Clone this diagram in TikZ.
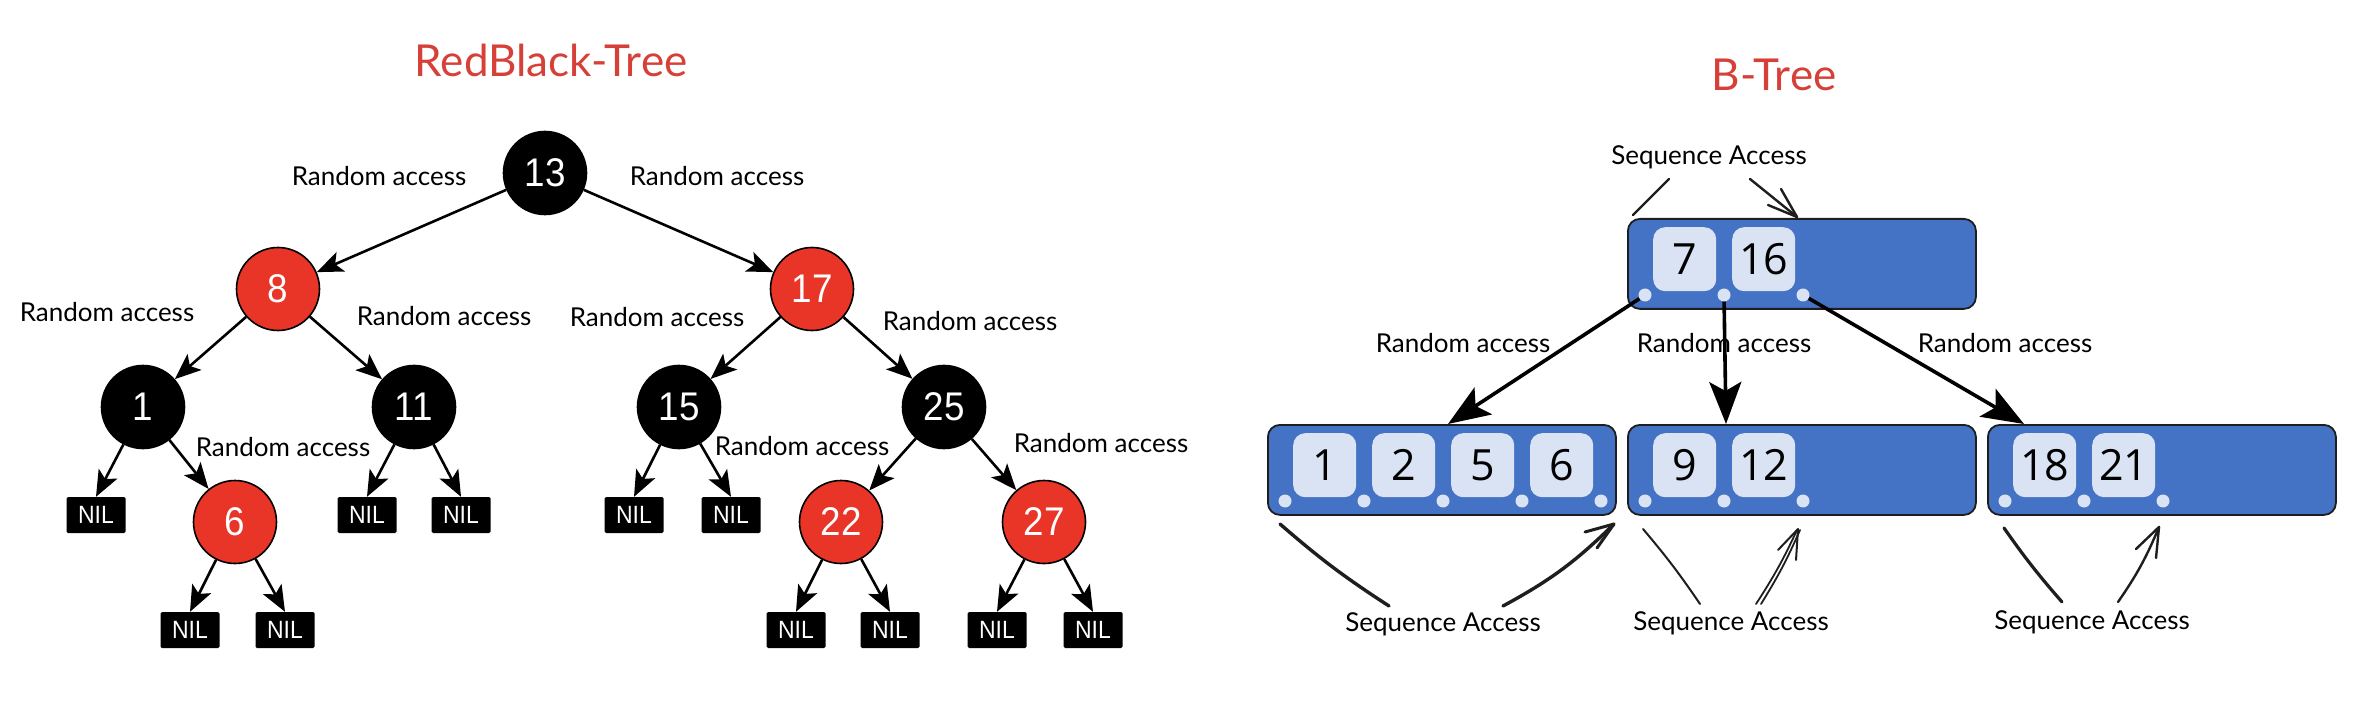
\documentclass[tikz,border=0pt]{standalone}
\usepackage{fontspec}
\usetikzlibrary{arrows.meta,calc}
\newfontfamily\rbnumf{Liberation Sans}[FakeStretch=0.92]
\newfontfamily\keynumf{Open Sans}
\newfontfamily\handf{Lato}
\definecolor{rbred}{RGB}{232,53,40}
\definecolor{titlered}{RGB}{214,64,56}
\definecolor{bblue}{RGB}{68,114,196}
\definecolor{bborder}{RGB}{30,30,30}
\definecolor{keyfill}{RGB}{218,227,243}
\definecolor{sketchcol}{RGB}{30,30,30}
\tikzset{
  rbk/.style={circle, fill=black, draw=black, line width=1.6pt, minimum size=83pt, inner sep=0pt, text=white, font=\rbnumf\fontsize{40}{40}\selectfont},
  rbr/.style={rbk, fill=rbred},
  nilbox/.style={rectangle, fill=black, minimum width=59pt, minimum height=36pt, inner sep=0pt, text=white, rounded corners=1.5pt, font=\rbnumf\fontsize{25}{25}\selectfont},
  rbedge/.style={line width=2.6pt, -{Stealth[length=26pt,width=21pt,inset=6pt]}},
  elab/.style={inner sep=0pt, font=\handf\fontsize{26}{26}\selectfont},
  ttl/.style={inner sep=0pt, text=titlered, font=\handf\fontsize{44}{44}\selectfont},
  bbox/.style={draw=bborder, fill=bblue, line width=1.8pt, rounded corners=12pt, minimum width=348pt, minimum height=90pt, inner sep=0pt, anchor=north west},
  keybox/.style={fill=keyfill, rounded corners=12pt, minimum width=63pt, minimum height=64pt, inner sep=0pt, anchor=north west, font=\keynumf\fontsize{43}{43}\selectfont},
  dotn/.style={circle, fill=keyfill, minimum size=13pt, inner sep=0pt},
  bedge/.style={line width=3.6pt, -{Stealth[length=42pt,width=32pt,inset=9pt]}},
  sketch/.style={line width=2.4pt, line cap=round, line join=round, draw=sketchcol},
}
\begin{document}
\begin{tikzpicture}[x=1pt,y=-1pt]
\fill[white] (0,0) rectangle (2358,708);
\useasboundingbox (0,0) rectangle (2358,708);

% ---------------- Red-black tree ----------------
\node[ttl] (t1) at (551,60) {RedBlack-Tree};

\node[rbk] (n13) at (545,173) {13};
\node[rbr] (n8)  at (278,289) {8};
\node[rbr] (n17) at (812,289) {17};
\node[rbk] (n1)  at (143,407) {1};
\node[rbk] (n11) at (414,407) {11};
\node[rbk] (n15) at (679,407) {15};
\node[rbk] (n25) at (944,407) {25};
\node[rbr] (n6)  at (235,522) {6};
\node[rbr] (n22) at (841,522) {22};
\node[rbr] (n27) at (1044,522) {27};

\node[nilbox] (nA) at (96,515) {NIL};
\node[nilbox] (nB) at (367,515) {NIL};
\node[nilbox] (nC) at (461,515) {NIL};
\node[nilbox] (nD) at (634,515) {NIL};
\node[nilbox] (nE) at (731,515) {NIL};
\node[nilbox] (nF) at (190,630) {NIL};
\node[nilbox] (nG) at (285,630) {NIL};
\node[nilbox] (nH) at (796,630) {NIL};
\node[nilbox] (nI) at (890,630) {NIL};
\node[nilbox] (nJ) at (997,630) {NIL};
\node[nilbox] (nK) at (1093,630) {NIL};

\draw[rbedge] (n13) -- (n8);
\draw[rbedge] (n13) -- (n17);
\draw[rbedge] (n8) -- (n1);
\draw[rbedge] (n8) -- (n11);
\draw[rbedge] (n17) -- (n15);
\draw[rbedge] (n17) -- (n25);
\draw[rbedge] (n1) -- (nA.north);
\draw[rbedge] (n1) -- (n6);
\draw[rbedge] (n11) -- (nB.north);
\draw[rbedge] (n11) -- (nC.north);
\draw[rbedge] (n15) -- (nD.north);
\draw[rbedge] (n15) -- (nE.north);
\draw[rbedge] (n25) -- (n22);
\draw[rbedge] (n25) -- (n27);
\draw[rbedge] (n6) -- (nF.north);
\draw[rbedge] (n6) -- (nG.north);
\draw[rbedge] (n22) -- (nH.north);
\draw[rbedge] (n22) -- (nI.north);
\draw[rbedge] (n27) -- (nJ.north);
\draw[rbedge] (n27) -- (nK.north);

\node[elab] (l1) at (379,176) {Random access};
\node[elab] (l2) at (717,176) {Random access};
\node[elab] (l3) at (107,312) {Random access};
\node[elab] (l4) at (444,316) {Random access};
\node[elab] (l5) at (657,317) {Random access};
\node[elab] (l6) at (970,321) {Random access};
\node[elab] (l7) at (283,447) {Random access};
\node[elab] (l8) at (802,446) {Random access};
\node[elab] (l9) at (1101,443) {Random access};

% ---------------- B-tree ----------------
\node[ttl] (t2) at (1774,75) {B-Tree};

\node[bbox] (broot) at (1627,218) {};
\node[bbox] (b1) at (1267,424) {};
\node[bbox] (b2) at (1627,424) {};
\node[bbox] (b3) at (1987,424) {};

% root keys
\node[keybox] (k7)  at (1653,227) {7};
\node[keybox] (k16) at (1732,227) {16};
\node[dotn] (r0) at (1645,295) {};
\node[dotn] (r1) at (1724,295) {};
\node[dotn] (r2) at (1803,295) {};
% box 1
\node[keybox] (k1) at (1293,433) {1};
\node[keybox] (k2) at (1372,433) {2};
\node[keybox] (k5) at (1451,433) {5};
\node[keybox] (k6) at (1530,433) {6};
\node[dotn] (a0) at (1285,501) {};
\node[dotn] (a1) at (1364,501) {};
\node[dotn] (a2) at (1443,501) {};
\node[dotn] (a3) at (1522,501) {};
\node[dotn] (a4) at (1601,501) {};
% box 2
\node[keybox] (k9)  at (1653,433) {9};
\node[keybox] (k12) at (1732,433) {12};
\node[dotn] (c0) at (1645,501) {};
\node[dotn] (c1) at (1724,501) {};
\node[dotn] (c2) at (1803,501) {};
% box 3
\node[keybox] (k18) at (2013,433) {18};
\node[keybox] (k21) at (2092,433) {21};
\node[dotn] (d0) at (2005,501) {};
\node[dotn] (d1) at (2084,501) {};
\node[dotn] (d2) at (2163,501) {};

\coordinate (e1) at (1448,424);
\coordinate (e2) at (1726,424);
\coordinate (e3) at (2024,424);
\draw[bedge] (r0) -- (e1);
\draw[bedge] (r1) -- (e2);
\draw[bedge] (r2) -- (e3);

\node[elab] (m1) at (1463,343) {Random access};
\node[elab] (m2) at (1724,343) {Random access};
\node[elab] (m3) at (2005,343) {Random access};

% sequence access sketches
\node[elab] (s0) at (1709,157) {Sequence Access};
\node[elab] (s1) at (1443,624) {Sequence Access};
\node[elab] (s2) at (1731,623) {Sequence Access};
\node[elab] (s3) at (2092,622) {Sequence Access};

% top
\draw[sketch] (1669,179) -- (1633,215);
\draw[sketch] (1750,179) -- (1797,217);
\draw[sketch] (1768,205) -- (1797,217) -- (1781,189);
% box 1
\draw[sketch, line width=3.4pt] (1280,524) to[bend right=4] (1389,606);
\draw[sketch, line width=3.4pt] (1503,606) to[bend right=8] (1614,524);
\draw[sketch, line width=3pt] (1585,532) -- (1614,524) -- (1597,548);
% box 2
\draw[sketch, line width=2pt] (1643,529) to[bend left=3] (1700,604);
\draw[sketch, line width=1.8pt] (1756,604) to[bend right=4] (1797,530);
\draw[sketch, line width=1.8pt] (1761,604) to[bend right=4] (1800,530);
\draw[sketch, line width=2pt] (1778,550) -- (1798,529) -- (1796,560);
% box 3
\draw[sketch, line width=3.2pt] (2004,528) to[bend right=3] (2062,602);
\draw[sketch, line width=2.4pt] (2118,602) to[bend right=6] (2159,527);
\draw[sketch, line width=2.4pt] (2136,549) -- (2159,527) -- (2156,558);
\end{tikzpicture}
\end{document}
